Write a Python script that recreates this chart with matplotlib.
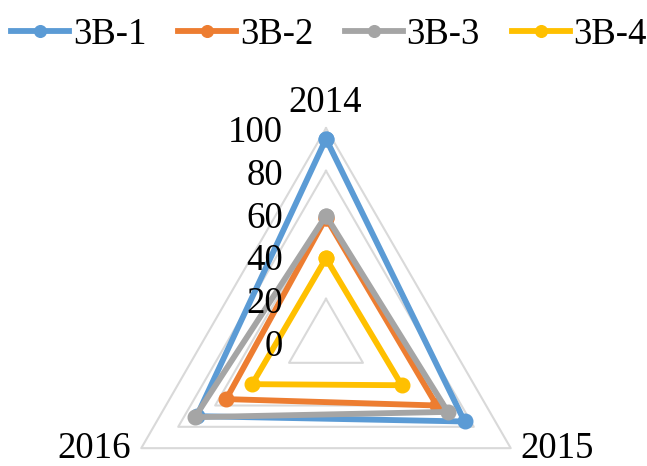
import numpy as np
import matplotlib
matplotlib.use("Agg")
import matplotlib.pyplot as plt
from matplotlib.lines import Line2D
from matplotlib.transforms import offset_copy

# Data
categories = ["2014", "2015", "2016"]
series_names = ["3B-1", "3B-2", "3B-3", "3B-4"]
values_3b1 = [95, 75, 70]
values_3b2 = [58, 60, 54]
values_3b3 = [59, 66, 71]
values_3b4 = [39, 41, 40]
radial_ticks = [0, 20, 40, 60, 80, 100]

series_values = [values_3b1, values_3b2, values_3b3, values_3b4]
colors = ["#5B9BD5", "#ED7D31", "#A5A5A5", "#FFC000"]

plt.rcParams["font.family"] = ["Liberation Serif", "DejaVu Serif"]
FS = 26.5

W, H = 647, 466
fig = plt.figure(figsize=(W / 100, H / 100), dpi=100)

# Polar axes placed so the chart centre and the 100 ring sit where wanted (pixels)
cx, cy, R = 326.0, 341.5, 213.3
ax = fig.add_axes([(cx - R) / W, (H - cy - R) / H, 2 * R / W, 2 * R / H],
                  projection="polar")
ax.set_theta_offset(np.pi / 2)
ax.set_theta_direction(-1)
ax.set_ylim(0, 100)
ax.grid(False)
ax.set_xticks([])
ax.set_yticks([])
ax.spines["polar"].set_visible(False)
ax.patch.set_visible(False)

n = len(categories)
angles = np.linspace(0, 2 * np.pi, n, endpoint=False)
closed = np.concatenate([angles, angles[:1]])

# Triangular gridlines
for v in radial_ticks[1:]:
    ax.plot(closed, [v] * (n + 1), color="#D9D9D9", lw=1.5, zorder=1,
            clip_on=False)

# Series
for vals, col in zip(series_values, colors):
    ax.plot(closed, list(vals) + [vals[0]], color=col, lw=4.2, marker="o",
            markersize=10.5, zorder=3, clip_on=False,
            solid_joinstyle="miter")

# Radial value labels, right-aligned left of the top spoke
for v in radial_ticks:
    tr = offset_copy(ax.transData, fig=fig, x=-43, y=-14, units="dots")
    ax.text(0, v, str(v), transform=tr, ha="right", va="baseline",
            fontsize=FS, color="black")

# Category labels
cat_offsets = [(-1, 16.5, "center"), (10, -9.5, "left"), (-10, -9.5, "right")]
for ang, lab, (dx, dy, ha) in zip(angles, categories, cat_offsets):
    tr = offset_copy(ax.transData, fig=fig, x=dx, y=dy, units="dots")
    ax.text(ang, 100, lab, transform=tr, ha=ha, va="baseline",
            fontsize=FS, color="black")

# Legend
handles = [Line2D([], [], color=c, lw=4.2, marker="o", markersize=10.5)
           for c in colors]
fig.legend(handles, series_names, loc="upper left", ncol=4, frameon=False,
           bbox_to_anchor=(11 / W, 1 - 17 / H), borderpad=0, borderaxespad=0,
           fontsize=FS, handlelength=1.58, handletextpad=0.1,
           columnspacing=0.86, markerscale=0.8)

fig.savefig("out.png", dpi=100)
